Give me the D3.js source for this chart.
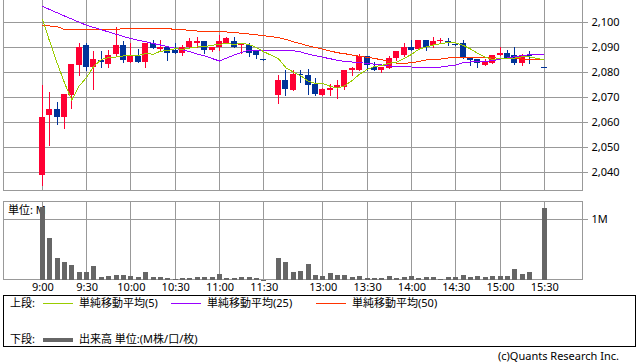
<!DOCTYPE html>
<html>
<head>
<meta charset="utf-8">
<script src="https://cdn.jsdelivr.net/npm/d3@7"></script>
<style>
body { margin: 0; background: #fff; }
text { font-family: "Noto Sans", "Noto Sans CJK JP", sans-serif; font-size: 11px; fill: #000; }
</style>
</head>
<body>
<script>
// 5-minute slots: 0 = 9:00 ... 30 = 11:30, 31 = lunch gap, 32 = 12:30 ... 68 = 15:30
var openP  = [2038.5,2062.5,2065,2062,2070.5,2082.5,2090.5,2082,2084.5,2083,2087,2090.5,2084,2086,2084,2091.5,2089,2090,2088.5,2087.5,2090,2091.5,2092,2088.5,2090,2091.5,2092,2090.5,2090.5,2088,2085,null,
              2070.5,2076.5,2072.5,2079,2078.5,2075,2070.5,2072.5,2073.5,2074,2080.5,2080.5,2086,2082,2080.5,2081.5,2085.5,2086.5,2090,2089,2092.5,2090.5,2092,2092,2091,2091.5,2085.5,2085,2082.5,2083.5,2086.5,2087.5,2086.5,2083.5,2086.5,null,2082]
var highP  = [2074.5,2072,2068,2071,2083,2091.5,2091.5,2088,2088,2088.5,2098,2092,2091.5,2089,2091.5,2092.5,2092.5,2090,2091.5,2090.5,2093.5,2094,2092,2090,2094.5,2094,2094,2091.5,2091.5,2088,2085,null,
              2078.5,2080.5,2080.5,2080.5,2081,2077.5,2073.5,2075,2076.5,2080.5,2082,2087,2086,2084,2082,2086,2088,2091.5,2092.5,2092.5,2092.5,2094,2093.5,2093.5,2091,2092.5,2085.5,2085,2085,2086.5,2090,2088.5,2090,2087,2088,null,2082]
var lowP   = [2034.5,2050.5,2059,2057.5,2065.5,2078.5,2080.5,2073,2082,2082,2086,2084,2084,2084,2082,2089.5,2088.5,2084.5,2087.5,2086.5,2090,2090,2087.5,2088,2088.5,2091.5,2090,2087.5,2086,2085.5,2084.5,null,
              2067.5,2070.5,2072.5,2076,2071,2070.5,2070.5,2070.5,2069.5,2073,2078.5,2080.5,2080.5,2080.5,2080,2081.5,2084.5,2086,2088.5,2089,2088.5,2090,2091.5,2090.5,2090.5,2085.5,2082.5,2082,2082.5,2083.5,2086.5,2085.5,2083,2082.5,2083.5,null,2082]
var closeP = [2062,2065,2062,2071,2083,2090,2082,2085,2084,2086.5,2090.5,2084.5,2086,2084,2091.5,2089.5,2090,2087.5,2087.5,2090,2092,2092,2088.5,2090,2092,2093.5,2090,2091,2087.5,2086.5,2084.5,null,
              2076.5,2073,2079,2078.5,2074.5,2071,2073,2073.5,2074.5,2080.5,2081.5,2086,2082.5,2080.5,2082,2085.5,2088,2090,2088.5,2092.5,2090,2092,2092.5,2091.5,2090.5,2085.5,2084.5,2083.5,2084,2086.5,2087.5,2085.5,2083.5,2086.5,2086,null,2082]

// moving averages
var ma5  = [2101,2092,2083.5,2075.5,2068.6,2074.2,2077.6,2082.2,2084.8,2085.6,2085.8,2086.2,2086.4,2086.4,2087.2,2086.9,2088.1,2088.4,2089.1,2088.9,2089.4,2089.8,2090,2090.5,2090.9,2091.2,2090.8,2091.3,2090.8,2089.6,2087.9,null,
            2085.1,2081.5,2079.8,2078.3,2076.2,2075.2,2075.2,2074.1,2073.3,2074.4,2076.4,2079,2080.8,2082,2082.4,2083.3,2083.7,2085.2,2086.8,2088.9,2089.8,2090.6,2091.1,2091.7,2091.4,2090.5,2089,2087.2,2085.7,2084.8,2085.2,2085.4,2085.4,2085.9,2085.8,null,2084.7]
var ma25 = [2106.1,2104.8,2103.5,2102.2,2101,2099.7,2098.5,2097.6,2096.7,2095.8,2094.9,2094,2093.2,2092.5,2091.9,2091.2,2090.6,2089.9,2089.3,2088.6,2087.9,2087,2086.2,2085.2,2084.2,2085.4,2086.6,2087.6,2088.6,2088.6,2088.6,null,
            2088.6,2088.5,2088.3,2087.8,2087,2086.3,2085.7,2085.1,2084.5,2084,2083.8,2083.5,2083.3,2082.9,2082.6,2082.2,2082.1,2081.9,2081.8,2081.7,2081.6,2081.6,2081.8,2082.2,2082.6,2083.5,2083.8,2083.9,2084,2084.4,2084.9,2085.4,2085.9,2086.4,2086.7,null,2086.9]
var ma50 = [2098.3,2098.2,2098,2096.8,2096.8,2096.8,2096.8,2096.8,2096.8,2096.8,2096.8,2097.2,2097.2,2097.2,2097.2,2097.2,2097.2,2097.2,2096.8,2096.8,2096.3,2096.2,2096.2,2096.1,2096,2095.8,2095.6,2095.3,2095,2094.7,2094.3,null,
            2093.6,2092.8,2091.9,2091.1,2090.3,2089.6,2088.9,2088.2,2087.5,2087.1,2086.6,2086.1,2085.7,2085.2,2084.7,2084,2083.3,2083.3,2083.5,2084,2084.6,2084.8,2085,2085.4,2085.7,2085.7,2085.7,2085.7,2085.7,2085.5,2085.3,2085.2,2085.1,2085,2085,null,2084.9]

// volume in millions of shares
var volume = [1.18,0.68,0.35,0.30,0.24,0.135,0.135,0.23,0.055,0.065,0.08,0.08,0.07,0.05,0.13,0.055,0.055,0.03,0.016,0.04,0.04,0.055,0.055,0.055,0.1,0.04,0.04,0.055,0.055,0.04,0.005,null,
              0.35,0.30,0.135,0.145,0.26,0.08,0.065,0.11,0.08,0.08,0.055,0.065,0.03,0.03,0.03,0.065,0.03,0.05,0.065,0.04,0.05,0.05,0.016,0.05,0.05,0.08,0.05,0.065,0.05,0.065,0.065,0.065,0.18,0.1,0.13,null,1.17]

var timeSlots  = [0,6,12,18,24,30,38,44,50,56,62,68]
var timeLabels = ["9:00","9:30","10:00","10:30","11:00","11:30","13:00","13:30","14:00","14:30","15:00","15:30"]
var priceTicks = [2040,2050,2060,2070,2080,2090,2100]
var volTicks   = [1]

var legendItems = [
    { label: "単純移動平均(5)",  color: "#99cc00", x: 43 },
    { label: "単純移動平均(25)", color: "#9900ff", x: 171 },
    { label: "単純移動平均(50)", color: "#ff3300", x: 316 }
]

function main() {
    var width = 638, height = 362
    var left = 3, right = 583
    var top1 = 0, bottom1 = 190
    var top2 = 201, bottom2 = 280
    var grid = "#999"

    var svg = d3.select("body").append("svg")
        .attr("width", width)
        .attr("height", height)
        .attr("shape-rendering", "crispEdges")

    // Scales
    var x = d3.scaleLinear().domain([0, 68]).range([42.3, 544.3])
    var y = d3.scaleLinear().domain([2040, 2100]).range([171.5, 21.5])
    var yv = d3.scaleLinear().domain([0, 1]).range([280, 218.5])
    var px = function (i) { return Math.floor(x(i)) }

    var slots = d3.range(openP.length)

    // Grid: price panel
    svg.append("g").selectAll("line").data(priceTicks).enter().append("line")
        .attr("x1", left).attr("x2", right)
        .attr("y1", function (d) { return Math.round(y(d)) + 0.5 })
        .attr("y2", function (d) { return Math.round(y(d)) + 0.5 })
        .attr("stroke", grid)
    svg.append("g").selectAll("line").data(timeSlots).enter().append("line")
        .attr("x1", function (d) { return px(d) + 0.5 })
        .attr("x2", function (d) { return px(d) + 0.5 })
        .attr("y1", top1).attr("y2", bottom1)
        .attr("stroke", grid)

    // Grid: volume panel
    svg.append("g").selectAll("line").data(volTicks).enter().append("line")
        .attr("x1", left).attr("x2", right)
        .attr("y1", function (d) { return Math.round(yv(d)) + 0.5 })
        .attr("y2", function (d) { return Math.round(yv(d)) + 0.5 })
        .attr("stroke", grid)
    svg.append("g").selectAll("line").data(timeSlots).enter().append("line")
        .attr("x1", function (d) { return px(d) + 0.5 })
        .attr("x2", function (d) { return px(d) + 0.5 })
        .attr("y1", top2).attr("y2", bottom2)
        .attr("stroke", grid)

    // Panel frames (no top edge on the price panel)
    svg.append("path")
        .attr("d", "M" + (left + 0.5) + "," + top1 + "V" + (bottom1 + 0.5) + "H" + (right - 0.5) + "V" + top1)
        .attr("fill", "none").attr("stroke", grid)
    svg.append("rect")
        .attr("x", left + 0.5).attr("y", top2 + 0.5)
        .attr("width", right - left - 1).attr("height", bottom2 - top2 - 1)
        .attr("fill", "none").attr("stroke", grid)

    // Right axes
    var yAxis = d3.axisRight(y).tickValues(priceTicks).tickFormat(d3.format(",")).tickSize(5).tickPadding(4)
    var gy = svg.append("g").attr("transform", "translate(" + (right - 0.5) + ",0.5)").call(yAxis)
    gy.select(".domain").remove()
    gy.selectAll("line").attr("stroke", grid)
    gy.selectAll("text").style("font-size", "11px").attr("fill", "#000")

    var vAxis = d3.axisRight(yv).tickValues(volTicks).tickFormat(function (d) { return d + "M" }).tickSize(5).tickPadding(4)
    var gv = svg.append("g").attr("transform", "translate(" + (right - 0.5) + ",0.5)").call(vAxis)
    gv.select(".domain").remove()
    gv.selectAll("line").attr("stroke", grid)
    gv.selectAll("text").style("font-size", "11px").attr("fill", "#000")

    // Time axis
    var xAxis = d3.axisBottom(x).tickValues(timeSlots)
        .tickFormat(function (d, i) { return timeLabels[i] }).tickSize(0).tickPadding(3)
    var gx = svg.append("g").attr("transform", "translate(0," + bottom2 + ")").call(xAxis)
    gx.select(".domain").remove()
    gx.selectAll("text").style("font-size", "11px").attr("fill", "#000")

    // Unit label in volume panel (drawn under the bars)
    svg.append("text").attr("x", 8).attr("y", 213.5).text("単位: M")

    // Volume bars
    svg.append("g").selectAll("rect")
        .data(slots.filter(function (i) { return volume[i] != null }))
        .enter().append("rect")
        .attr("x", function (i) { return px(i) - 2 })
        .attr("width", 5)
        .attr("y", function (i) { return Math.round(yv(volume[i])) })
        .attr("height", function (i) { return Math.max(1, 280 - Math.round(yv(volume[i]))) })
        .attr("fill", "#666")

    // Candles
    var traded = slots.filter(function (i) { return openP[i] != null })
    var candle = svg.append("g").selectAll("g").data(traded).enter().append("g")
    var col = function (i) { return closeP[i] > openP[i] ? "#ff0033" : "#003399" }
    candle.append("line")
        .attr("x1", function (i) { return px(i) + 0.5 })
        .attr("x2", function (i) { return px(i) + 0.5 })
        .attr("y1", function (i) { return Math.round(y(highP[i])) })
        .attr("y2", function (i) { return Math.round(y(lowP[i])) + 1 })
        .attr("stroke", col)
    candle.append("rect")
        .attr("x", function (i) { return px(i) - 3 })
        .attr("width", 6)
        .attr("y", function (i) { return Math.round(y(Math.max(openP[i], closeP[i]))) })
        .attr("height", function (i) {
            return Math.max(1, Math.round(y(Math.min(openP[i], closeP[i]))) - Math.round(y(Math.max(openP[i], closeP[i]))))
        })
        .attr("fill", col)

    // Moving averages
    var line = d3.line().x(function (d) { return x(d[0]) }).y(function (d) { return y(d[1]) })
    var series = [[ma50, "#ff3300"], [ma25, "#9900ff"], [ma5, "#99cc00"]]
    series.forEach(function (s) {
        var pts = slots.filter(function (i) { return s[0][i] != null })
            .map(function (i) { return [i, s[0][i]] })
        svg.append("path").datum(pts)
            .attr("d", line)
            .attr("fill", "none")
            .attr("stroke", s[1])
            .attr("stroke-width", 1)
    })

    // Legend box
    svg.append("rect").attr("x", 3.5).attr("y", 295.5).attr("width", 632).attr("height", 51)
        .attr("fill", "none").attr("stroke", "#000")
    svg.append("text").attr("x", 10).attr("y", 307).text("上段:")
    var leg = svg.append("g").selectAll("g").data(legendItems).enter().append("g")
    leg.append("line")
        .attr("x1", function (d) { return d.x }).attr("x2", function (d) { return d.x + 30 })
        .attr("y1", 303.5).attr("y2", 303.5)
        .attr("stroke", function (d) { return d.color })
    leg.append("text")
        .attr("x", function (d) { return d.x + 36 }).attr("y", 307)
        .text(function (d) { return d.label })

    svg.append("text").attr("x", 10).attr("y", 343).text("下段:")
    svg.append("rect").attr("x", 43).attr("y", 338).attr("width", 30).attr("height", 4).attr("fill", "#666")
    svg.append("text").attr("x", 79).attr("y", 343).text("出来高 単位:(M株/口/枚)")

    svg.append("text").attr("x", 619).attr("y", 360).attr("text-anchor", "end")
        .attr("fill", "#333").text("(c)Quants Research Inc.")
}

main()
</script>
</body>
</html>
